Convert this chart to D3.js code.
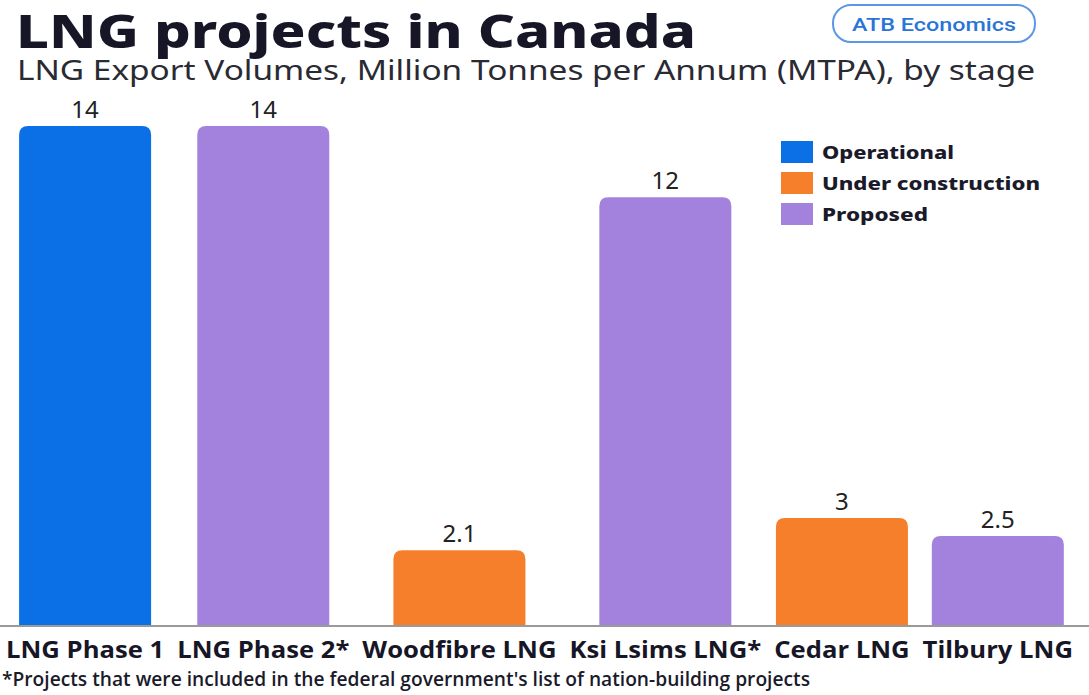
<!DOCTYPE html>
<html><head><meta charset="utf-8">
<script src="https://cdn.jsdelivr.net/npm/d3@7"></script>
<style>body{margin:0;background:#fff;}svg{display:block;}</style>
</head><body>
<svg id="c" width="1089" height="695"></svg>
<script>
const categories = ["LNG Phase 1","LNG Phase 2*","Woodfibre LNG","Ksi Lsims LNG*","Cedar LNG","Tilbury LNG"];
const values = [14,14,2.1,12,3,2.5];
const valueLabels = ["14","14","2.1","12","3","2.5"];
const stages = ["Operational","Proposed","Under construction","Proposed","Under construction","Proposed"];
const legendItems = ["Operational","Under construction","Proposed"];
const colors = {"Operational":"#0b6fe6","Under construction":"#f67f2c","Proposed":"#a282dc"};

const svg = d3.select("#c");
const W = 1089, H = 695;
svg.append("rect").attr("width",W).attr("height",H).attr("fill","#fff");

function fit(sel, w){ sel.attr("textLength",w).attr("lengthAdjust","spacingAndGlyphs"); return sel; }

// title
fit(svg.append("text").attr("x",16).attr("y",48).text("LNG projects in Canada")
  .attr("font-family","Noto Sans").attr("font-weight",800).attr("font-size",46).attr("fill","#161626"), 680);
fit(svg.append("text").attr("x",17).attr("y",80).text("LNG Export Volumes, Million Tonnes per Annum (MTPA), by stage")
  .attr("font-family","Noto Sans").attr("font-size",28).attr("fill","#2a2a33"), 1018);
// badge
svg.append("rect").attr("x",833).attr("y",5).attr("width",202).attr("height",37).attr("rx",18)
  .attr("fill","#fff").attr("stroke","#5b97e6").attr("stroke-width",2);
fit(svg.append("text").attr("x",934).attr("y",31).attr("text-anchor","middle").text("ATB Economics")
  .attr("font-family","Roboto").attr("font-weight",500).attr("font-size",19).attr("fill","#2a74d8"), 164);

// layout of labels
const baseY = 625, topY = 126;
const y = d3.scaleLinear().domain([0,14]).range([baseY, topY]);
const lab = svg.append("g");
const labs = lab.selectAll("text").data(categories).join("text")
  .attr("y",658).text(d=>d)
  .attr("font-family","Open Sans").attr("font-weight",700).attr("font-size",23).attr("fill","#161626")
  .attr("text-anchor","middle");
const widths = labs.nodes().map(n=>n.getComputedTextLength());
const left = 6, right = 1073, gap = 13;
const k = (right-left-gap*(categories.length-1))/d3.sum(widths);
const centers = [];
let cx = left;
widths.forEach(w=>{centers.push(cx + w*k/2); cx += w*k + gap;});
const x = d3.scaleOrdinal().domain(categories).range(centers);
labs.attr("x",d=>x(d)).each(function(d,i){ fit(d3.select(this), widths[i]*k); });

const bw = 132, r = 9;
function barPath(cxp, yt){
  const x0 = cxp-bw/2, x1 = cxp+bw/2;
  return `M${x0},${baseY}V${yt+r}Q${x0},${yt} ${x0+r},${yt}H${x1-r}Q${x1},${yt} ${x1},${yt+r}V${baseY}Z`;
}
svg.append("g").selectAll("path").data(categories).join("path")
  .attr("d",(d,i)=>barPath(x(d), y(values[i])))
  .attr("fill",(d,i)=>colors[stages[i]]);
svg.append("g").selectAll("text").data(categories).join("text")
  .attr("x",d=>x(d)).attr("y",(d,i)=>y(values[i])-8).attr("text-anchor","middle")
  .text((d,i)=>valueLabels[i])
  .attr("font-family","Noto Sans").attr("font-size",24).attr("fill","#222");

svg.append("line").attr("x1",0).attr("x2",W).attr("y1",baseY+1).attr("y2",baseY+1)
  .attr("stroke","#9a9a9a").attr("stroke-width",2);

// legend
const lg = svg.append("g");
const legendWidths = [132, 218, 106];
legendItems.forEach((s,i)=>{
  lg.append("rect").attr("x",781).attr("y",141+i*31).attr("width",32).attr("height",22).attr("fill",colors[s]);
  fit(lg.append("text").attr("x",822).attr("y",159+i*31).text(s)
    .attr("font-family","Noto Sans").attr("font-weight",800).attr("font-size",18).attr("fill","#1a1a2a"), legendWidths[i]);
});

fit(svg.append("text").attr("x",2).attr("y",686).text("*Projects that were included in the federal government's list of nation-building projects")
  .attr("font-family","Open Sans").attr("font-weight",600).attr("font-size",19).attr("fill","#1a1a2a"), 808);
</script>
</body></html>
